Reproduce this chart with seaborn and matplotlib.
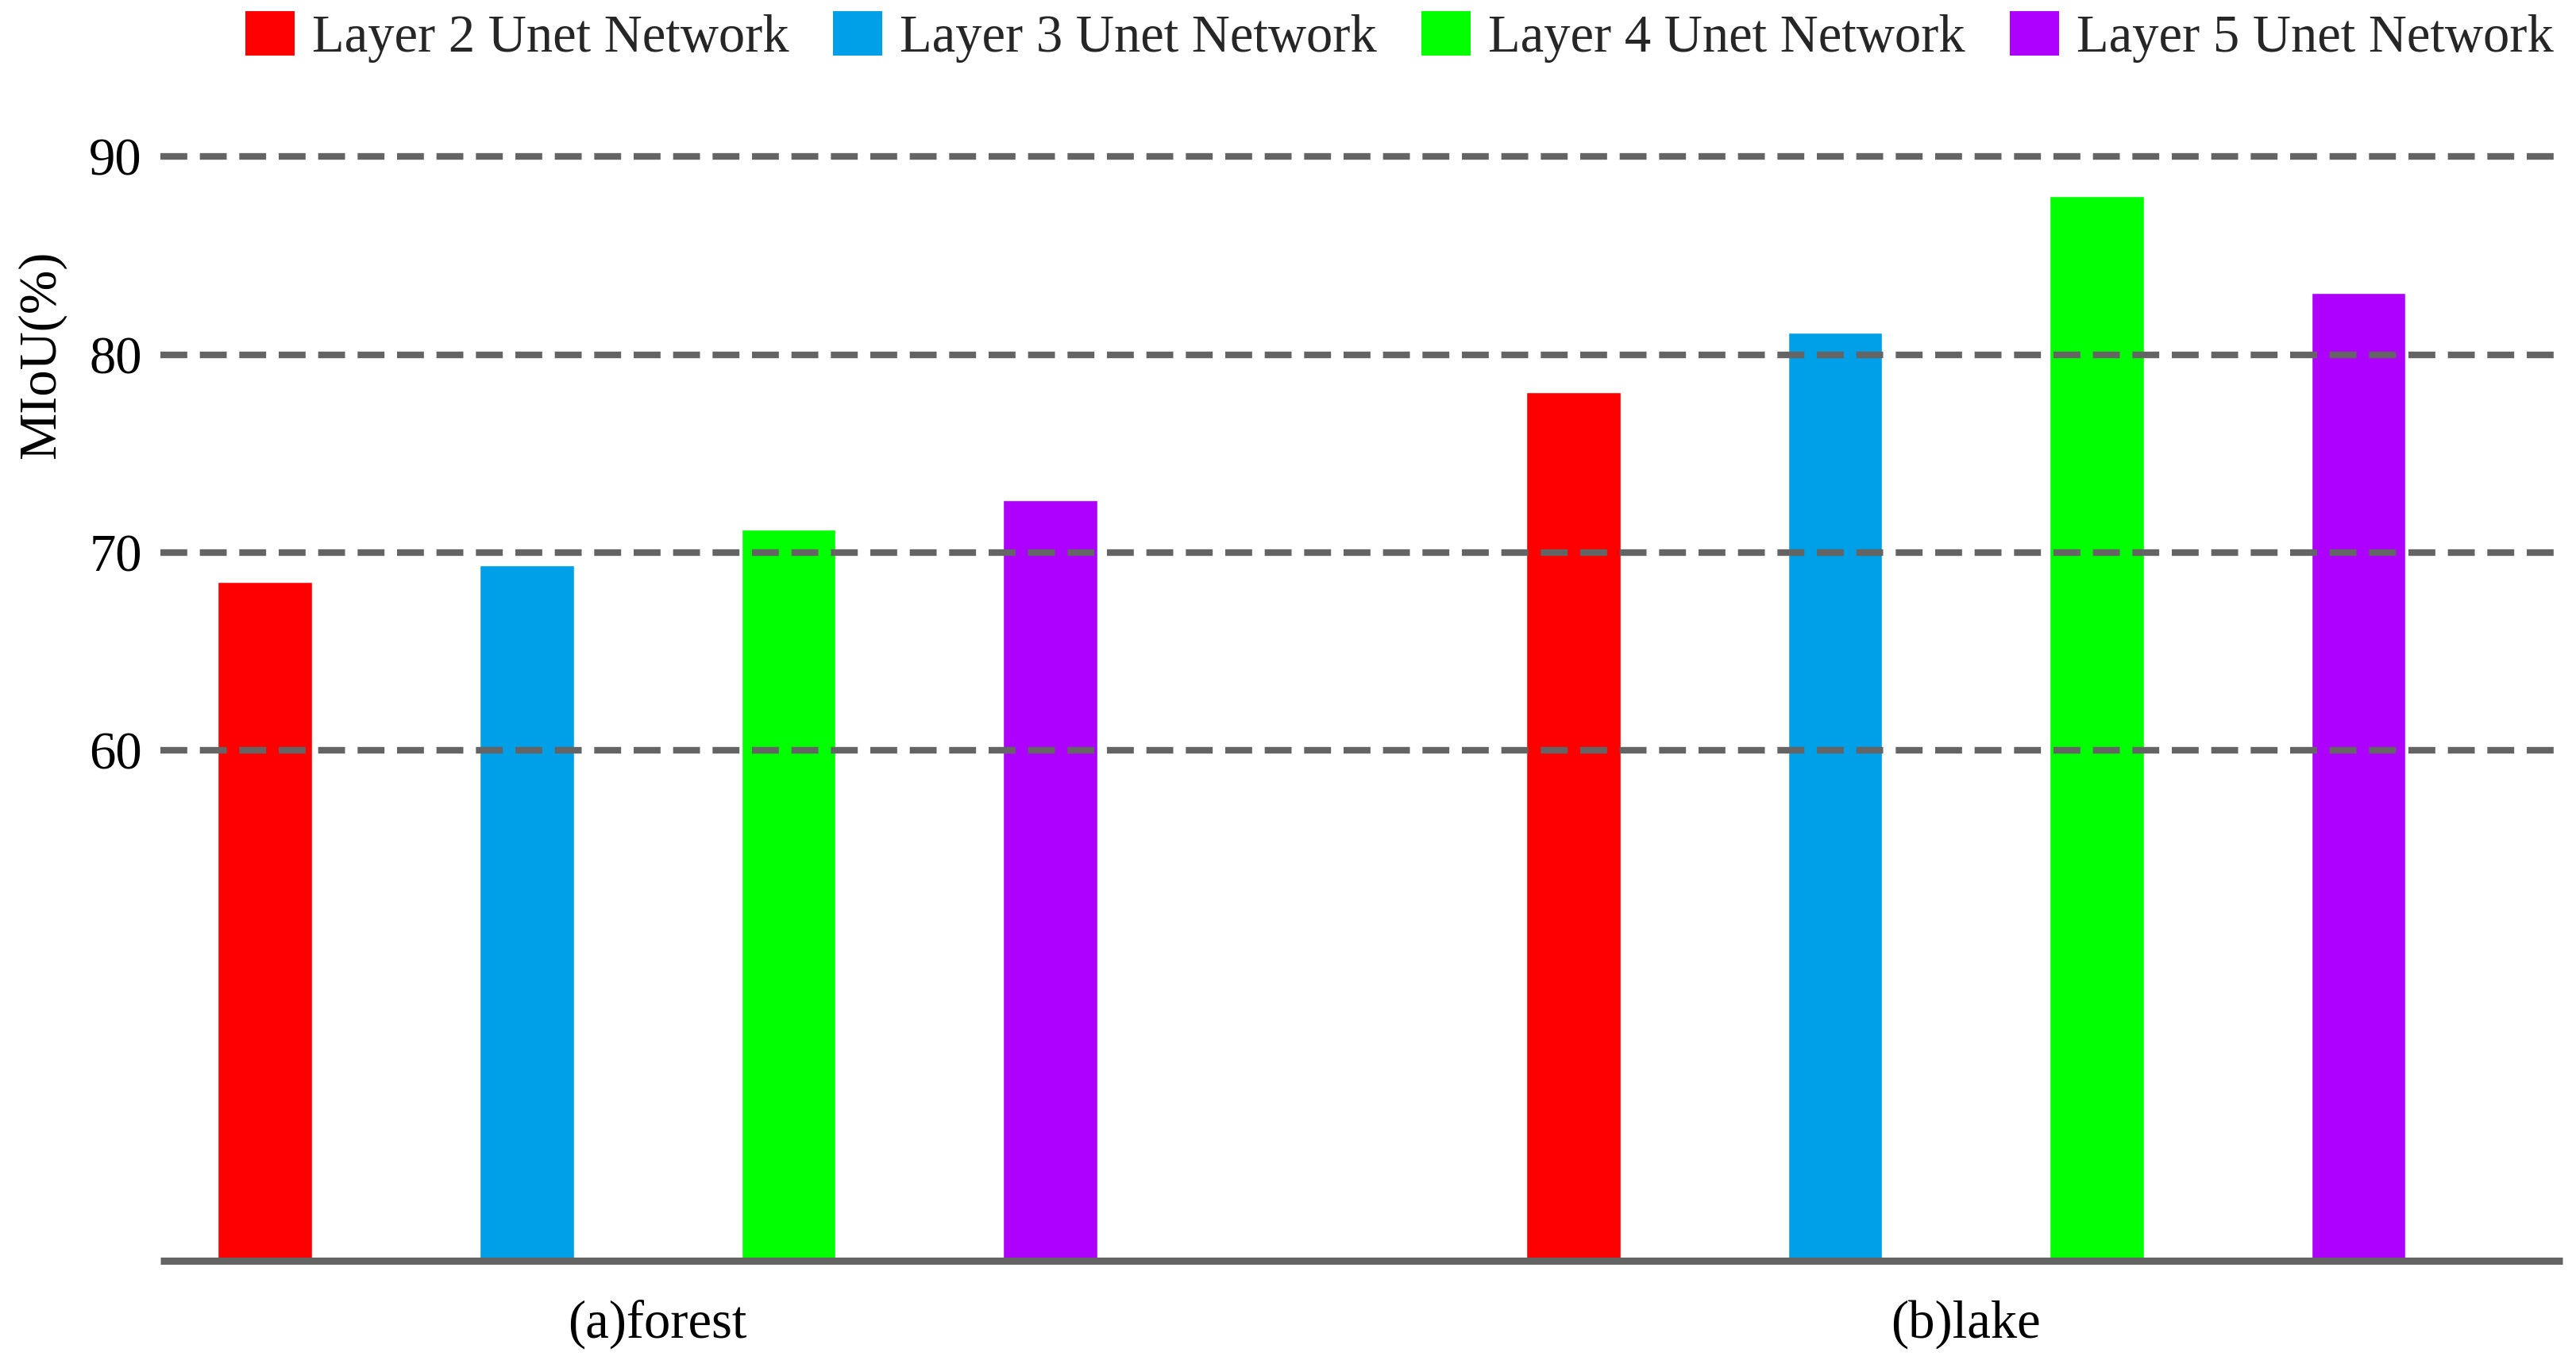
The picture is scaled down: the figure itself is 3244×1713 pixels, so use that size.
import matplotlib

matplotlib.use("Agg")
import matplotlib.pyplot as plt
from matplotlib.patches import Patch
import pandas as pd
import seaborn as sns

# values
categories = ["(a)forest", "(b)lake"]
networks = ["Layer 2 Unet Network", "Layer 3 Unet Network", "Layer 4 Unet Network", "Layer 5 Unet Network"]
forest_miou = [68.5, 69.35, 71.15, 72.65]
lake_miou = [78.1, 81.1, 88.0, 83.1]
y_ticks = [60, 70, 80, 90]

colors = ["#FF0000", "#00A0E8", "#00FF00", "#AE00FF"]
grid_color = "#646464"

df = pd.DataFrame(
    {
        "scene": [categories[0]] * len(networks) + [categories[1]] * len(networks),
        "network": networks + networks,
        "miou": forest_miou + lake_miou,
    }
)

sns.set_theme(style="white")
plt.rcParams["font.family"] = ["Liberation Serif", "DejaVu Serif"]

fig = plt.figure(figsize=(32.44, 17.13), dpi=100)
ax = fig.add_axes([0.06227, 0.07326, 0.93249, 0.84068])

sns.barplot(
    data=df,
    x="scene",
    y="miou",
    hue="network",
    order=categories,
    hue_order=networks,
    palette=colors,
    saturation=1,
    width=0.8,
    gap=0.64,
    legend=False,
    ax=ax,
)

ax.set_xlim(-0.380, 1.456)
ax.set_ylim(34.23, 92)
ax.set_yticks(y_ticks)
ax.set_yticklabels([str(t) for t in y_ticks])
ax.set_xlabel("")
ax.set_ylabel("MIoU(%)", fontsize=48, color="black")
ax.yaxis.set_label_coords(-0.0393, 0.792)

ax.tick_params(axis="y", length=0, pad=16.8, labelsize=48, labelcolor="black")
ax.tick_params(axis="x", length=0, pad=35.5, labelsize=48, labelcolor="black")

# dashed grid drawn over the bars
ax.set_axisbelow(False)
ax.yaxis.grid(True, linestyle=(0, (4.06, 1.9)), linewidth=6, color=grid_color)
ax.xaxis.grid(False)

for side in ["left", "top", "right"]:
    ax.spines[side].set_visible(False)
ax.spines["bottom"].set_color(grid_color)
ax.spines["bottom"].set_linewidth(6.5)
ax.spines["bottom"].set_capstyle("butt")
ax.spines["bottom"].set_zorder(3)

handles = [Patch(facecolor=c, edgecolor="none") for c in colors]
fig.legend(
    handles,
    networks,
    loc="center left",
    bbox_to_anchor=(0.0951, 0.973),
    ncol=4,
    frameon=False,
    fontsize=48,
    handlelength=0.93,
    handleheight=0.915,
    handletextpad=0.33,
    columnspacing=0.84,
    borderpad=0,
    borderaxespad=0,
)

fig.savefig("out.png", dpi=100, facecolor="white")
